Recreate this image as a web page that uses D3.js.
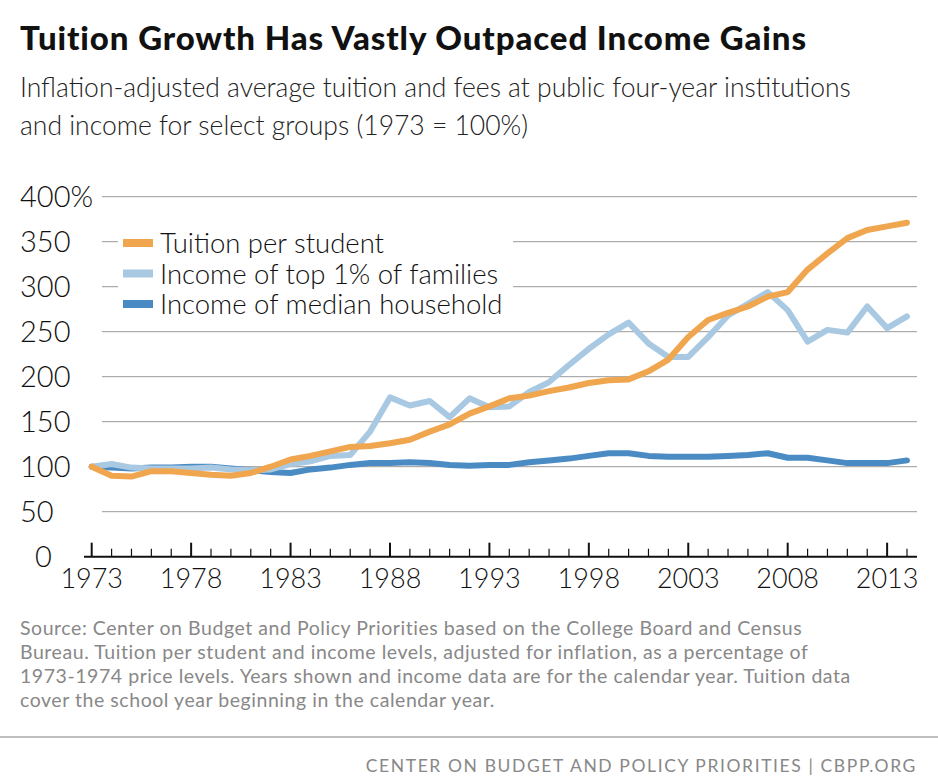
<!DOCTYPE html>
<html><head><meta charset="utf-8">
<script src="https://cdn.jsdelivr.net/npm/d3@7"></script>
<style>body{margin:0;background:#fff;font-family:Lato,"Open Sans",sans-serif}</style>
</head><body><svg id="c" width="938" height="783"></svg>
<script>
const years = d3.range(1973, 2015);
const tuition = [100,90,89,95,95,93,91,90,93,100,108,112,117,122,123,126,130,139,147,159,167,176,179,184,188,193,196,197,206,219,244,263,271,278,289,294,319,337,354,363,367,371];
const top1 = [100,103,99,98,98,98,99,97,96,97,103,106,112,113,139,177,168,173,155,176,166,167,183,194,213,231,247,260,237,222,222,244,268,281,294,274,239,252,249,278,254,267];
const median = [100,99,98,99,99,100,100,98,96,94,93,97,99,102,104,104,105,104,102,101,102,102,105,107,109,112,115,115,112,111,111,111,112,113,115,110,110,107,104,104,104,107];
const yTicks = [0,50,100,150,200,250,300,350,400];
const xTickLabels = [1973,1978,1983,1988,1993,1998,2003,2008,2013];
const seriesNames = ["Tuition per student","Income of top 1% of families","Income of median household"];
const colors = ["#f0a54f","#a9c9e2","#4b8bc4"];

const svg = d3.select("#c");
const x = d3.scaleLinear().domain([1973,2014]).range([91.7,907]);
const y = d3.scaleLinear().domain([0,400]).range([556.7,196.7]);

svg.append("text").attr("x",20).attr("y",50).attr("font-size",33).attr("letter-spacing",0.9).attr("font-weight",900).attr("fill","#111").text("Tuition Growth Has Vastly Outpaced Income Gains");
svg.append("text").attr("x",20).attr("y",97).attr("font-size",26.5).attr("font-weight",300).attr("fill","#222").text("Inflation-adjusted average tuition and fees at public four-year institutions");
svg.append("text").attr("x",20).attr("y",135).attr("font-size",26.5).attr("font-weight",300).attr("fill","#222").text("and income for select groups (1973 = 100%)");

svg.append("g").selectAll("line").data(yTicks.filter(d=>d>0)).join("line")
  .attr("x1",102).attr("x2",917).attr("y1",d=>y(d)).attr("y2",d=>y(d)).attr("stroke","#999").attr("stroke-width",1);
svg.append("g").selectAll("text").data(yTicks).join("text")
  .attr("x",d=>d===0?35:20).attr("y",d=>y(d)+10).attr("font-size",29).attr("font-weight",300).attr("fill","#111")
  .text(d=>d).filter(d=>d===400).append("tspan").text("%");

const ax = svg.append("g").attr("transform","translate(0,556.7)");
ax.append("line").attr("x1",84).attr("x2",917).attr("stroke","#111").attr("stroke-width",2);
ax.selectAll("line.t").data(years).join("line").attr("class","t")
  .attr("x1",d=>x(d)).attr("x2",d=>x(d)).attr("y1",0).attr("y2",d=>(d-1973)%5===0?-14:-8).attr("stroke","#111").attr("stroke-width",d=>(d-1973)%5===0?2:1.2);
ax.selectAll("text").data(xTickLabels).join("text").attr("x",d=>x(d)).attr("y",31).attr("text-anchor","middle")
  .attr("font-size",27).attr("font-weight",300).attr("fill","#111").text(d=>d);

svg.append("rect").attr("x",118).attr("y",225).attr("width",395).attr("height",97).attr("fill","#fff");

const line = d3.line().x((d,i)=>x(years[i])).y(d=>y(d));
[[median,colors[2]],[top1,colors[1]],[tuition,colors[0]]].forEach(([s,c])=>{
  svg.append("path").attr("d",line(s)).attr("fill","none").attr("stroke",c).attr("stroke-width",6).attr("stroke-linejoin","round").attr("stroke-linecap","round");
});

const lg = svg.append("g");
seriesNames.forEach((n,i)=>{
  const yy = 243 + i*30.5;
  lg.append("rect").attr("x",123).attr("y",yy-4).attr("width",30).attr("height",8).attr("fill",colors[i]);
  lg.append("text").attr("x",160).attr("y",yy+10).attr("font-size",27.5).attr("font-weight",300).attr("fill","#111").text(n);
});

const src = ["Source: Center on Budget and Policy Priorities based on the College Board and Census",
"Bureau. Tuition per student and income levels, adjusted for inflation, as a percentage of",
"1973-1974 price levels. Years shown and income data are for the calendar year. Tuition data",
"cover the school year beginning in the calendar year."];
svg.append("g").selectAll("text").data(src).join("text").attr("x",20).attr("y",(d,i)=>635+i*24)
  .attr("font-size",19.5).attr("letter-spacing",0.55).attr("fill","#888").text(d=>d);
svg.append("line").attr("x1",0).attr("x2",938).attr("y1",737).attr("y2",737).attr("stroke","#aaa").attr("stroke-width",1.5);
svg.append("text").attr("x",917).attr("y",772).attr("text-anchor","end").attr("font-size",17.5).attr("letter-spacing",1.6).attr("fill","#888")
  .text("CENTER ON BUDGET AND POLICY PRIORITIES | CBPP.ORG");
</script></body></html>
